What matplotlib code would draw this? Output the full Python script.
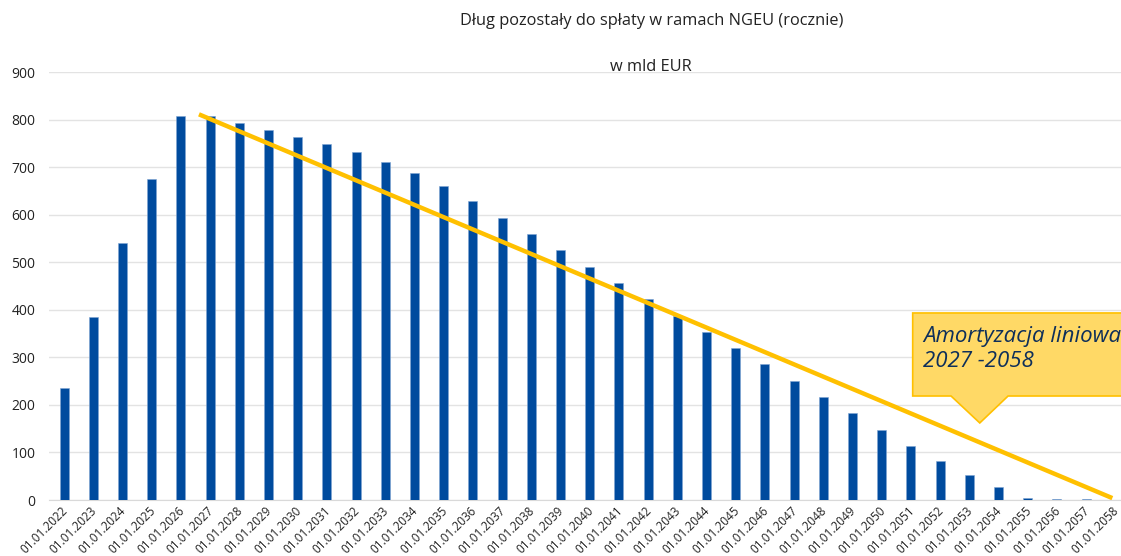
import matplotlib
matplotlib.use("Agg")
import matplotlib.pyplot as plt
from matplotlib.patches import Polygon
from matplotlib.transforms import ScaledTranslation

years = list(range(2022, 2059))
labels = [f"01.01.{y}" for y in years]
debt = [235, 385, 540, 675, 807, 807, 793, 778, 763, 748, 731, 710, 687, 660,
        628, 593, 559, 525, 490, 456, 422, 387, 353, 320, 286, 250, 216, 182,
        147, 113, 82, 52, 27, 5, 1.5, 1.5, 0.5]
# linear amortisation guide line (start/end in data units)
trend_x = [4.62, 35.9]
trend_y = [811, 4]

title = "Dług pozostały do spłaty w ramach NGEU (rocznie)"
subtitle = "w mld EUR"
callout = "Amortyzacja liniowa\n2027 -2058"

plt.rcParams['font.family'] = ['Open Sans', 'DejaVu Sans']

fig = plt.figure(figsize=(11.21, 5.56), dpi=100)
ax = fig.add_axes([0.0441, 0.1007, 0.9638, 0.7698])

x = list(range(len(years)))
ax.bar(x, debt, width=0.31, color='#004B9E', edgecolor='#7FA5D3', linewidth=0.4, zorder=3)
ax.plot(trend_x, trend_y, color='#FFC000', linewidth=3.2, solid_capstyle='butt', zorder=4)

ax.set_xlim(-0.5, len(years) - 0.5)
ax.set_ylim(0, 900)
ax.set_yticks(range(0, 901, 100))
ax.yaxis.grid(True, color='#E3E3E3', linewidth=1, zorder=0)
ax.set_axisbelow(True)
for s in ['top', 'right', 'left']:
    ax.spines[s].set_visible(False)
ax.spines['bottom'].set_color('#D9D9D9')
ax.tick_params(axis='both', length=0)
ax.tick_params(axis='y', labelsize=10, colors='#222222', pad=10)
ax.set_xticks(x)
ax.set_xticklabels(labels, rotation=45, ha='right', va='top', rotation_mode='anchor',
                   fontsize=8.5, color='#222222')
ax.tick_params(axis='x', pad=3)
offset = ScaledTranslation(-0.03, 0, fig.dpi_scale_trans)
for lab in ax.get_xticklabels():
    lab.set_transform(lab.get_transform() + offset)

fig.text(0.581, 0.962, title, ha='center', va='center', fontsize=11.8, color='#222222')
fig.text(0.581, 0.880, subtitle, ha='center', va='center', fontsize=11.8, color='#222222')

# callout shape (axes fraction)
poly = Polygon([(0.799, 0.437), (1.05, 0.437), (1.05, 0.243), (0.8873, 0.243),
                (0.8611, 0.180), (0.8345, 0.243), (0.799, 0.243)],
               closed=True, transform=ax.transAxes, facecolor='#FFD966',
               edgecolor='#FFC000', linewidth=1.2, zorder=5, clip_on=False)
ax.add_patch(poly)
ax.text(0.8086, 0.353, callout, transform=ax.transAxes, ha='left', va='center',
        fontsize=16, style='italic', color='#0E2F5A', linespacing=1.25, zorder=6)

fig.savefig("out.png", dpi=100)
